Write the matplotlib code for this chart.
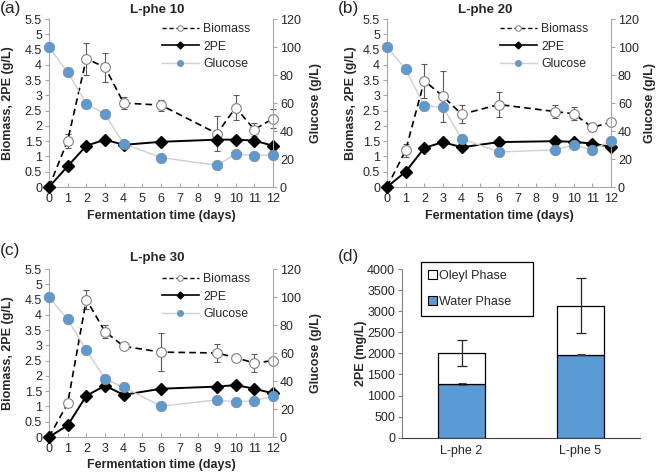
import matplotlib
matplotlib.use("Agg")
import matplotlib.pyplot as plt
from matplotlib.lines import Line2D
from matplotlib.patches import Patch

plt.rcParams['font.family'] = ['Liberation Sans', 'DejaVu Sans']

days = [0, 1, 2, 3, 4, 6, 9, 10, 11, 12]

a_biomass = [0, 1.52, 4.2, 3.92, 2.75, 2.68, 1.75, 2.6, 1.88, 2.24]
a_biomass_err = [0, 0.23, 0.53, 0.48, 0.2, 0.18, 0.57, 0.4, 0.2, 0.32]
a_2pe = [0, 0.68, 1.35, 1.55, 1.38, 1.48, 1.55, 1.55, 1.52, 1.35]
a_glucose = [100, 82, 59.5, 52, 31, 21, 15.5, 23.5, 22.5, 23]

b_biomass = [0, 1.2, 3.48, 2.97, 2.38, 2.7, 2.47, 2.4, 1.95, 2.12]
b_biomass_err = [0, 0.22, 0.55, 0.84, 0.29, 0.4, 0.2, 0.22, 0.05, 0.1]
b_2pe = [0, 0.5, 1.28, 1.47, 1.3, 1.47, 1.5, 1.48, 1.42, 1.32]
b_glucose = [100, 84, 58, 57, 34.5, 25, 26.5, 30, 26.5, 33]

c_biomass = [0, 1.1, 4.5, 3.45, 2.97, 2.78, 2.75, 2.6, 2.42, 2.5]
c_biomass_err = [0, 0.05, 0.3, 0.22, 0.08, 0.62, 0.3, 0.08, 0.3, 0.08]
c_2pe = [0, 0.38, 1.35, 1.68, 1.38, 1.58, 1.65, 1.7, 1.58, 1.43]
c_glucose = [100, 84, 62, 41.5, 35.5, 22, 26.5, 25, 26, 29]

d_categories = ['L-phe 2', 'L-phe 5']
d_water = [1280, 1970]
d_water_err = [25, 15]
d_oleyl = [720, 1160]
d_total_err = [310, 655]

left_ticks = [0, 0.5, 1, 1.5, 2, 2.5, 3, 3.5, 4, 4.5, 5, 5.5]
left_ticklabels = ['0', '0.5', '1', '1.5', '2', '2.5', '3', '3.5', '4', '4.5', '5', '5.5']
right_ticks = [0, 20, 40, 60, 80, 100, 120]
x_ticks = list(range(0, 13))

W, H = 657, 474
fig = plt.figure(figsize=(W / 100, H / 100), dpi=100)

BLUE = '#5b9bd5'
SPINE = '#a6a6a6'
TXT = '#262626'
FS = 9


def rect(l, r, t, b):
    return [l / W, 1 - b / H, (r - l) / W, (b - t) / H]


def line_panel(pos, biomass, berr, pe, glc, title, letter, letter_xy, title_xy,
               ylab_x, ylab2_x, xlab_y, leg_xy):
    ax = fig.add_axes(rect(*pos))
    ax2 = ax.twinx()
    ax.set_xlim(0, 12)
    ax.set_ylim(0, 5.5)
    ax2.set_ylim(0, 120)
    ax.set_xticks(x_ticks)
    ax.set_yticks(left_ticks)
    ax.set_yticklabels(left_ticklabels)
    ax2.set_yticks(right_ticks)
    for a in (ax, ax2):
        a.spines['top'].set_visible(False)
        for s in a.spines.values():
            s.set_color(SPINE)
            s.set_linewidth(0.8)
    ax.spines['right'].set_visible(False)
    ax2.spines['left'].set_visible(False)
    ax2.spines['bottom'].set_visible(False)
    ax.tick_params(axis='x', direction='in', length=3, color=SPINE, labelsize=FS,
                   labelcolor=TXT, pad=4)
    ax.tick_params(axis='y', direction='out', length=3, color=SPINE, labelsize=FS,
                   labelcolor=TXT, pad=2)
    ax2.tick_params(axis='y', direction='out', length=3, color=SPINE, labelsize=FS,
                    labelcolor=TXT, pad=2)

    ax.errorbar(days[1:], biomass[1:], yerr=berr[1:], fmt='none', ecolor='#595959',
                elinewidth=0.8, capsize=2.5, capthick=0.8, zorder=2, clip_on=False)
    ax.plot(days, biomass, linestyle=(0, (4, 2.5)), color='black', lw=1.2, zorder=3,
            clip_on=False)
    ax.plot(days[1:], biomass[1:], linestyle='none', marker='o', ms=7,
            mfc='white', mec='#7f7f7f', mew=0.8, zorder=4, clip_on=False)
    ax.plot(days, pe, color='black', lw=1.4, marker='D', ms=6, mfc='black',
            mec='black', zorder=5, clip_on=False)
    ax2.plot(days, glc, color='#cfcfcf', lw=1.0, marker='o', ms=7.5, mfc=BLUE,
             mec='#7f8c99', mew=0.6, zorder=6, clip_on=False)

    fig.text(title_xy[0] / W, 1 - title_xy[1] / H, title, ha='center', va='center',
             fontsize=9.5, fontweight='bold', color=TXT)
    fig.text(letter_xy[0] / W, 1 - letter_xy[1] / H, letter, ha='left', va='center',
             fontsize=12.5, color=TXT)
    fig.text(ylab_x / W, 1 - ((pos[2] + pos[3]) / 2) / H, 'Biomass, 2PE (g/L)',
             rotation=90, ha='center', va='center', fontsize=FS, fontweight='bold',
             color=TXT)
    fig.text(ylab2_x / W, 1 - ((pos[2] + pos[3]) / 2) / H, 'Glucose (g/L)',
             rotation=90, ha='center', va='center', fontsize=FS, fontweight='bold',
             color=TXT)
    fig.text(((pos[0] + pos[1]) / 2) / W, 1 - xlab_y / H, 'Fermentation time (days)',
             ha='center', va='center', fontsize=FS, fontweight='bold', color=TXT)

    handles = [
        Line2D([], [], linestyle=(0, (3, 2)), color='black', lw=1.0, marker='o', ms=4,
               mfc='white', mec='#7f7f7f', mew=0.7),
        Line2D([], [], color='black', lw=1.2, marker='D', ms=3.5, mfc='black'),
        Line2D([], [], color='#cfcfcf', lw=1.0, marker='o', ms=4.5, mfc=BLUE,
               mec='#7f8c99', mew=0.5),
    ]
    leg = ax2.legend(handles, ['Biomass', '2PE', 'Glucose'], loc='upper left',
                     bbox_to_anchor=(leg_xy[0] / W, 1 - leg_xy[1] / H),
                     bbox_transform=fig.transFigure, frameon=False, fontsize=8.8,
                     handlelength=3.0, handletextpad=0.35, labelspacing=0.45,
                     borderpad=0, borderaxespad=0)
    for t in leg.get_texts():
        t.set_color(TXT)
    return ax


line_panel((49, 273, 19, 187), a_biomass, a_biomass_err, a_2pe, a_glucose,
           'L-phe 10', '(a)', (0, 9), (157, 10), 8, 316, 216, (162, 23))
line_panel((387, 611, 19, 187), b_biomass, b_biomass_err, b_2pe, b_glucose,
           'L-phe 20', '(b)', (338, 9), (485, 10), 351, 650, 216, (500, 23))
line_panel((49, 273, 269, 437), c_biomass, c_biomass_err, c_2pe, c_glucose,
           'L-phe 30', '(c)', (0, 251), (157, 258), 8, 316, 465, (162, 273))

# Panel (d)
axd = fig.add_axes(rect(402, 640, 269, 437.7))
x = [0, 1]
axd.bar(x, d_water, width=0.4, color=BLUE, edgecolor='black', linewidth=0.9,
        label='Water Phase', zorder=2)
axd.bar(x, d_oleyl, width=0.4, bottom=d_water, color='white', edgecolor='black',
        linewidth=0.9, label='Oleyl Phase', zorder=2)
axd.errorbar(x, d_water, yerr=d_water_err, fmt='none', ecolor='#404040',
             elinewidth=0.8, capsize=3, capthick=0.8, zorder=3)
tot = [w + o for w, o in zip(d_water, d_oleyl)]
axd.errorbar(x, tot, yerr=d_total_err, fmt='none', ecolor='#262626',
             elinewidth=0.9, capsize=3.5, capthick=0.9, zorder=3)
axd.set_xlim(-0.5, 1.5)
axd.set_ylim(0, 4000)
axd.set_yticks(range(0, 4001, 500))
axd.set_xticks(x)
axd.set_xticklabels(d_categories)
for s in ['top', 'right']:
    axd.spines[s].set_visible(False)
axd.spines['left'].set_color('#808080')
axd.spines['bottom'].set_color('#404040')
axd.tick_params(axis='y', direction='out', length=3, color='#808080', labelsize=FS,
                labelcolor=TXT, pad=2)
axd.tick_params(axis='x', length=0, labelsize=FS, labelcolor=TXT, pad=5)
fig.text(361 / W, 1 - 353 / H, '2PE (mg/L)', rotation=90, ha='center', va='center',
         fontsize=FS, fontweight='bold', color=TXT)
fig.text(338 / W, 1 - 256 / H, '(d)', ha='left', va='center', fontsize=12.5, color=TXT)

hd = [Patch(facecolor='white', edgecolor='black', linewidth=0.8),
      Patch(facecolor=BLUE, edgecolor='black', linewidth=0.8)]
legd = axd.legend(hd, ['Oleyl Phase', 'Water Phase'], loc='upper left',
                  bbox_to_anchor=(420.5 / W, 1 - 267 / H, 112.5 / W, 0.01),
                  bbox_transform=fig.transFigure, mode='expand', fontsize=FS,
                  handlelength=0.7, handleheight=0.7, handletextpad=0.15,
                  labelspacing=1.15, borderpad=0.6, borderaxespad=0,
                  fancybox=False, edgecolor='black', framealpha=1)
legd.get_frame().set_linewidth(0.9)
for t in legd.get_texts():
    t.set_color(TXT)

fig.savefig('out.png', dpi=100)
